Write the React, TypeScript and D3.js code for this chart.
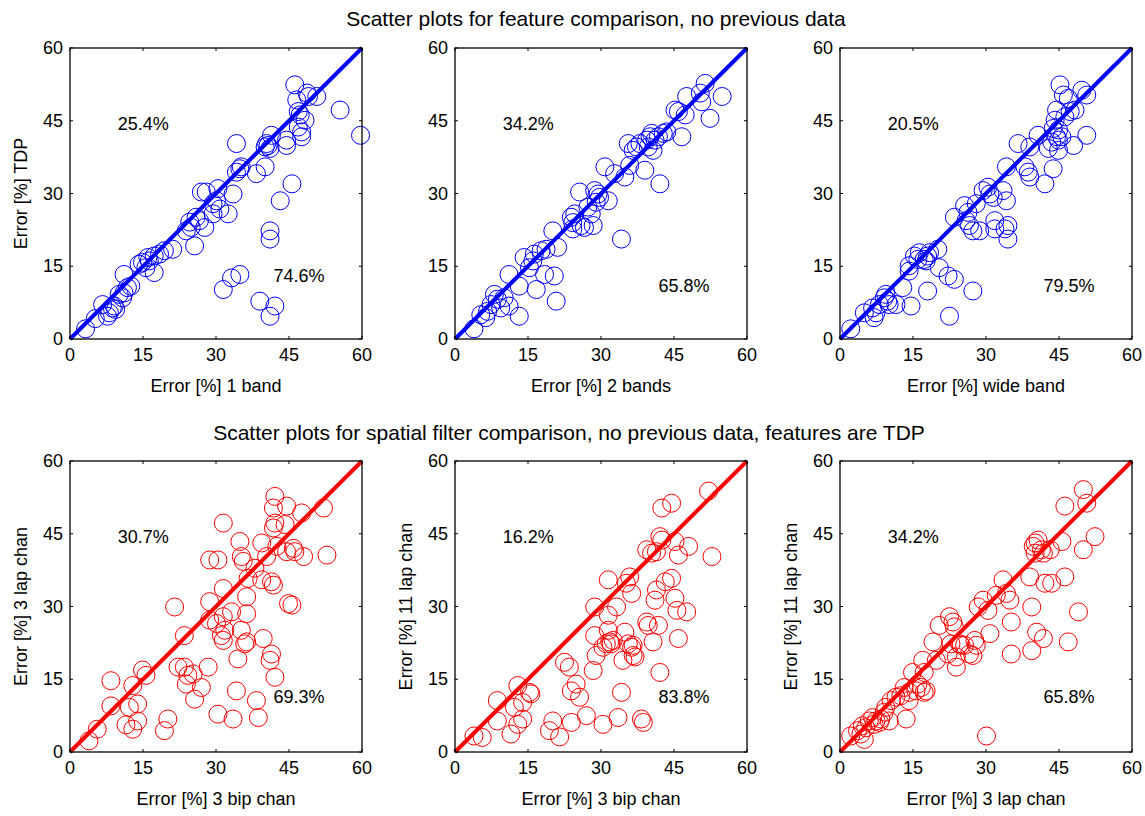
import React from "react";
import * as d3 from "d3";

// points, [x, y] in percent
const featBand1: [number, number][] = [
  [3.2, 2.1], [5.2, 4.2], [6.7, 7.1], [7.7, 4.7], [8.1, 5.4], [8.7, 6.4], [9.1, 6.8], [9.4, 6.1],
  [10.1, 9.2], [10.8, 8.5], [11.1, 9.5], [11.8, 10.6], [12.5, 10.9], [11.1, 13.3], [14.2, 15.4],
  [14.9, 15.8], [15.6, 14.7], [16.0, 16.8], [16.3, 16.1], [17.3, 13.7], [17.3, 17.1], [18.4, 17.5],
  [19.4, 18.2], [21.1, 18.5], [23.9, 22.3], [24.6, 24.1], [24.9, 23.0], [25.6, 19.2], [25.9, 25.1],
  [26.6, 24.4], [27.7, 23.0], [27.0, 30.3], [28.0, 30.3], [29.4, 27.9], [29.4, 25.8], [30.1, 28.5],
  [30.4, 31.0], [30.8, 26.8], [32.5, 25.8], [33.5, 29.9], [34.2, 40.3], [34.2, 34.4], [34.9, 35.1],
  [35.2, 35.5], [38.3, 34.1], [40.1, 35.5], [40.1, 39.6], [40.4, 40.3], [40.7, 39.9], [41.1, 39.3],
  [41.4, 42.0], [43.2, 28.5], [44.5, 39.9], [44.5, 41.0], [45.6, 32.0], [46.2, 52.4], [46.6, 49.3],
  [46.9, 46.9], [46.9, 43.7], [47.3, 46.2], [47.6, 42.7], [47.6, 41.7], [48.3, 45.1], [48.7, 50.7],
  [49.0, 50.0], [50.7, 50.0], [55.5, 47.2], [59.7, 42.0], [31.5, 10.2], [33.2, 12.6], [34.9, 13.3],
  [39.0, 7.8], [41.1, 4.7], [42.1, 6.8], [41.1, 22.3], [41.1, 20.6],
];

const featBand2: [number, number][] = [
  [3.9, 2.1], [5.3, 5.0], [6.3, 4.4], [6.7, 5.7], [7.4, 7.1], [8.1, 9.2], [8.7, 8.2], [9.4, 6.4],
  [10.1, 8.5], [11.1, 6.8], [11.1, 13.3], [13.2, 10.9], [13.2, 4.7], [14.2, 16.8], [15.3, 14.7],
  [16.0, 16.1], [16.3, 17.5], [16.7, 10.2], [17.7, 18.2], [18.4, 13.3], [18.7, 18.5], [20.1, 22.3],
  [20.4, 13.0], [20.8, 7.8], [21.1, 18.9], [23.9, 25.1], [24.2, 24.0], [24.2, 22.7], [24.6, 25.8],
  [25.6, 30.3], [25.9, 23.4], [26.6, 23.0], [27.3, 27.2], [28.0, 25.8], [28.4, 23.4], [28.7, 30.6],
  [29.0, 28.2], [29.4, 29.9], [29.7, 29.2], [30.8, 35.5], [31.5, 28.5], [32.8, 34.1], [34.2, 20.6],
  [34.9, 33.4], [35.6, 40.3], [35.9, 35.8], [36.6, 38.9], [37.3, 39.6], [38.0, 40.3], [39.0, 34.8],
  [39.4, 41.0], [39.7, 39.6], [40.1, 41.7], [40.4, 42.4], [40.7, 38.9], [41.1, 41.0], [41.8, 41.7],
  [42.1, 32.0], [42.8, 42.4], [43.5, 42.7], [45.2, 47.2], [45.9, 46.9], [46.6, 41.7], [47.3, 46.2],
  [47.6, 50.0], [50.4, 50.7], [50.7, 48.9], [51.4, 52.7], [52.4, 45.5], [54.9, 50.0],
];

const featWide: [number, number][] = [
  [2.2, 2.1], [5.0, 5.4], [6.7, 6.4], [7.0, 4.4], [7.4, 5.4], [8.1, 7.1], [9.1, 8.5], [9.4, 9.2],
  [9.8, 7.8], [10.1, 7.1], [11.5, 7.1], [12.9, 10.6], [14.2, 14.0], [14.2, 15.1], [14.6, 6.8],
  [15.3, 17.1], [16.0, 16.4], [16.3, 17.8], [17.3, 16.4], [17.7, 16.1], [18.0, 17.1], [18.4, 17.8],
  [18.0, 9.9], [20.1, 18.5], [20.4, 14.7], [22.2, 13.0], [22.5, 4.7], [23.5, 12.3], [23.5, 25.1],
  [25.6, 27.5], [25.9, 24.4], [26.3, 26.1], [26.6, 23.4], [27.3, 22.3], [27.3, 9.9], [28.0, 27.9],
  [28.7, 22.3], [29.4, 30.6], [30.4, 31.3], [30.8, 29.9], [31.5, 29.2], [31.8, 24.4], [31.8, 22.7],
  [33.5, 30.6], [33.9, 22.7], [34.2, 28.5], [34.5, 23.4], [34.5, 20.6], [34.2, 35.5], [36.6, 40.3],
  [38.0, 35.5], [38.7, 34.4], [39.0, 33.4], [39.0, 39.6], [40.7, 42.0], [42.1, 32.0], [42.8, 39.3],
  [43.5, 40.6], [43.8, 35.1], [43.8, 43.4], [44.2, 45.1], [44.5, 47.2], [44.5, 41.7], [44.9, 43.1],
  [44.9, 41.0], [44.9, 38.9], [45.2, 52.4], [45.6, 41.7], [45.9, 50.3], [46.2, 45.8], [46.9, 49.6],
  [47.3, 46.9], [48.0, 39.9], [48.3, 47.2], [49.7, 51.3], [50.7, 42.0], [50.7, 50.3],
];

const filt3lap: [number, number][] = [
  [3.9, 2.3], [5.6, 4.7], [8.4, 14.7], [8.4, 9.5], [11.5, 5.6], [12.2, 9.2], [12.9, 4.7], [12.9, 13.7],
  [13.9, 9.9], [13.9, 6.4], [14.9, 16.9], [15.6, 15.8], [19.4, 4.4], [20.1, 6.8], [21.5, 29.9],
  [22.2, 17.5], [23.5, 17.5], [23.5, 24.0], [23.9, 14.0], [24.2, 15.8], [25.3, 16.1], [25.6, 10.9],
  [27.0, 13.3], [28.4, 17.5], [28.7, 39.6], [28.7, 31.0], [28.7, 27.2], [30.1, 26.5], [30.4, 7.8],
  [30.4, 39.6], [31.1, 24.0], [31.5, 23.0], [31.5, 47.2], [31.5, 33.7], [31.5, 27.9], [31.8, 25.1],
  [33.2, 28.9], [33.5, 6.8], [34.2, 12.6], [34.5, 19.2], [34.9, 43.4], [35.2, 40.3], [35.2, 25.1],
  [35.6, 39.3], [35.9, 22.3], [36.3, 22.7], [36.3, 32.0], [36.3, 28.5], [36.6, 35.8], [38.0, 37.9],
  [38.3, 10.6], [38.7, 7.1], [39.4, 43.1], [39.4, 35.5], [39.7, 23.4], [40.4, 40.3], [41.1, 18.9],
  [41.4, 20.2], [41.4, 35.1], [41.8, 34.4], [41.8, 50.3], [41.8, 46.2], [42.1, 52.7], [42.1, 15.4],
  [42.1, 47.2], [42.5, 42.4], [44.2, 46.9], [44.5, 50.7], [44.5, 41.3], [44.9, 30.6], [45.6, 30.3],
  [45.9, 42.0], [46.2, 41.3], [47.6, 49.3], [48.0, 40.3], [52.1, 50.3], [52.8, 40.6],
];

const filt11lapBip: [number, number][] = [
  [3.9, 3.3], [5.6, 3.0], [8.7, 10.6], [8.7, 6.4], [11.5, 3.7], [12.2, 9.2], [12.9, 5.7], [12.9, 13.7],
  [13.9, 10.2], [13.9, 6.8], [15.3, 12.3], [15.6, 12.0], [19.4, 4.4], [20.1, 6.4], [21.5, 3.1],
  [22.5, 18.5], [23.5, 17.5], [23.9, 6.1], [23.9, 12.6], [24.9, 14.0], [25.6, 11.3], [27.0, 7.5],
  [28.4, 16.8], [28.7, 29.9], [28.7, 24.0], [29.0, 19.9], [30.4, 5.7], [30.4, 21.6], [31.1, 22.3],
  [31.5, 35.5], [31.5, 28.2], [31.5, 25.1], [31.8, 22.7], [32.1, 22.3], [32.5, 23.0], [33.2, 29.9],
  [33.5, 7.1], [34.2, 12.3], [34.5, 18.9], [34.9, 24.7], [35.2, 34.8], [35.6, 22.3], [35.9, 36.1],
  [36.3, 32.7], [36.3, 21.6], [36.6, 19.9], [37.0, 19.6], [36.6, 22.0], [38.3, 6.8], [38.7, 6.1],
  [39.4, 26.8], [39.4, 41.7], [39.7, 26.1], [40.4, 41.0], [40.7, 22.7], [41.1, 31.3], [41.4, 33.4],
  [41.4, 41.3], [41.8, 26.1], [42.1, 44.4], [42.1, 16.4], [42.5, 43.7], [42.5, 50.3], [43.2, 35.1],
  [44.5, 51.3], [44.5, 35.8], [45.2, 31.7], [45.2, 43.4], [45.6, 29.2], [45.9, 40.6], [45.9, 23.4],
  [47.6, 28.9], [48.0, 42.4], [52.1, 53.8], [52.8, 40.3],
];

const filt11lapLap: [number, number][] = [
  [2.2, 3.3], [3.6, 4.4], [4.3, 3.7], [4.6, 5.4], [5.0, 2.6], [5.3, 5.0], [6.0, 6.4], [6.7, 7.1],
  [7.0, 5.7], [7.4, 6.4], [8.1, 6.1], [8.4, 6.8], [9.1, 8.2], [9.4, 9.2], [10.1, 6.4], [10.5, 10.6],
  [11.5, 11.3], [12.5, 11.6], [13.2, 13.3], [13.6, 6.8], [14.2, 12.3], [14.2, 10.6], [14.9, 16.4],
  [15.6, 12.6], [16.0, 14.0], [16.7, 13.3], [17.0, 18.9], [17.3, 12.3], [17.7, 12.6], [17.3, 16.4],
  [19.1, 22.7], [19.8, 18.9], [20.4, 26.1], [22.2, 20.2], [22.5, 27.9], [22.8, 22.3], [23.2, 26.8],
  [23.5, 25.8], [23.9, 17.5], [23.9, 19.6], [24.6, 22.3], [24.9, 22.0], [25.6, 22.0], [26.6, 20.2],
  [27.3, 19.9], [27.7, 23.0], [28.0, 22.0], [28.4, 29.9], [29.4, 31.3], [30.1, 3.3], [30.4, 29.2],
  [30.8, 24.4], [32.1, 32.3], [33.5, 35.5], [34.2, 32.7], [34.9, 31.3], [35.2, 26.8], [35.2, 20.2],
  [39.0, 36.1], [39.4, 29.9], [39.4, 20.9], [39.7, 42.4], [40.1, 43.1], [40.1, 41.0], [40.4, 24.7],
  [40.7, 43.7], [41.4, 41.7], [41.8, 41.0], [41.8, 23.4], [42.1, 34.8], [43.2, 41.7], [43.5, 34.8],
  [45.6, 43.4], [46.2, 36.1], [46.2, 50.7], [46.9, 22.7], [49.0, 28.9], [50.0, 41.7], [50.0, 54.1],
  [50.7, 51.3], [52.4, 44.4],
];

const ticks = [0, 15, 30, 45, 60];
const titles = [
  "Scatter plots for feature comparison, no previous data",
  "Scatter plots for spatial filter comparison, no previous data, features are TDP",
];
const xLabels = [
  "Error [%] 1 band", "Error [%] 2 bands", "Error [%] wide band",
  "Error [%] 3 bip chan", "Error [%] 3 bip chan", "Error [%] 3 lap chan",
];
const yLabels = [
  "Error [%] TDP", "", "",
  "Error [%] 3 lap chan", "Error [%] 11 lap chan", "Error [%] 11 lap chan",
];
const upperPct = ["25.4%", "34.2%", "20.5%", "30.7%", "16.2%", "34.2%"];
const lowerPct = ["74.6%", "65.8%", "79.5%", "69.3%", "83.8%", "65.8%"];
const lowerPctY = [13.0, 10.9, 10.9, 11.3, 11.3, 11.3];
const panelData = [featBand1, featBand2, featWide, filt3lap, filt11lapBip, filt11lapLap];

const font = "'Liberation Sans', Arial, Helvetica, sans-serif";
const W = 292, H = 291;
const lefts = [70, 455, 840];
const tops = [48, 461];

function Panel({ i }: { i: number }) {
  const left = lefts[i % 3];
  const top = tops[Math.floor(i / 3)];
  const color = i < 3 ? "#0000ff" : "#ff0000";
  const x = d3.scaleLinear().domain([0, 60]).range([0, W]);
  const y = d3.scaleLinear().domain([0, 60]).range([H, 0]);
  const line = d3.line<number>().x(d => x(d)).y(d => y(d));
  return (
    <g transform={`translate(${left},${top})`}>
      {panelData[i].map((d, k) => (
        <circle key={k} cx={x(d[0])} cy={y(d[1])} r={9} fill="none" stroke={color} strokeWidth={1} />
      ))}
      <path d={line([0, 60]) || ""} stroke={color} strokeWidth={4} fill="none" />
      <rect x={0} y={0} width={W} height={H} fill="none" stroke="#000" strokeWidth={1.3} />
      {ticks.map(t => (
        <g key={t}>
          <line x1={x(t)} x2={x(t)} y1={H} y2={H - 3} stroke="#000" />
          <line x1={x(t)} x2={x(t)} y1={0} y2={3} stroke="#000" />
          <line x1={0} x2={3} y1={y(t)} y2={y(t)} stroke="#000" />
          <line x1={W} x2={W - 3} y1={y(t)} y2={y(t)} stroke="#000" />
          <text x={x(t)} y={H + 22} textAnchor="middle" fontSize={18}>{t}</text>
          <text x={-7} y={y(t) + 6} textAnchor="end" fontSize={18}>{t}</text>
        </g>
      ))}
      <text x={W / 2} y={H + 53} textAnchor="middle" fontSize={18}>{xLabels[i]}</text>
      {yLabels[i] && (
        <text transform={`translate(-43,${H / 2}) rotate(-90)`} textAnchor="middle" fontSize={18}>{yLabels[i]}</text>
      )}
      <text x={x(9.8)} y={y(44.4) + 6} fontSize={18}>{upperPct[i]}</text>
      <text x={x(41.8)} y={y(lowerPctY[i]) + 6} fontSize={18}>{lowerPct[i]}</text>
    </g>
  );
}

export default function App() {
  return (
    <svg width={1145} height={816} style={{ position: "absolute", left: 0, top: 0, background: "#fff" }} fontFamily={font}>
      <text x={596} y={26} textAnchor="middle" fontSize={21}>{titles[0]}</text>
      <text x={569} y={440} textAnchor="middle" fontSize={21}>{titles[1]}</text>
      {d3.range(6).map(i => <Panel key={i} i={i} />)}
    </svg>
  );
}
